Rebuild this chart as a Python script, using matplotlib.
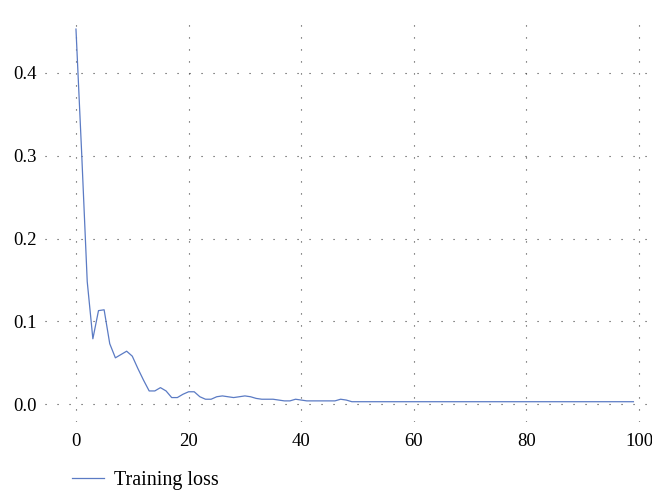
import matplotlib
matplotlib.use("Agg")
import matplotlib.pyplot as plt

epochs = list(range(100))
loss = [0.453, 0.305, 0.148, 0.079, 0.113, 0.114, 0.073, 0.056, 0.060, 0.064,
        0.058, 0.043, 0.029, 0.016, 0.016, 0.020, 0.016, 0.008, 0.008, 0.012,
        0.015, 0.015, 0.009, 0.006, 0.006, 0.009, 0.010, 0.009, 0.008, 0.009,
        0.010, 0.009, 0.007, 0.006, 0.006, 0.006, 0.005, 0.004, 0.004, 0.006,
        0.005, 0.004, 0.004, 0.004, 0.004, 0.004, 0.004, 0.006, 0.005] + [0.003] * 51
x_ticks = [0, 20, 40, 60, 80, 100]
y_ticks = [0.0, 0.1, 0.2, 0.3, 0.4]

plt.rcParams['font.family'] = ['Liberation Serif', 'DejaVu Serif']

fig = plt.figure(figsize=(6.52, 4.93), dpi=100)
ax = fig.add_axes([45 / 652, 1 - 422 / 493, 1 - 45 / 652, (422 - 15) / 493])

line, = ax.plot(epochs, loss, color='#5b7bc4', lw=0.9, label='Training loss')

ax.set_xlim(-5.5, 102.3)
ax.set_ylim(-0.0215, 0.470)
ax.set_xticks(x_ticks)
ax.set_yticks(y_ticks)
ax.set_yticklabels(['%.1f' % v for v in y_ticks])
ax.tick_params(length=0, labelsize=13.5, pad=8)
ax.tick_params(axis='y', pad=6)
for s in ax.spines.values():
    s.set_visible(False)
ax.grid(True, color='#444444', lw=0.8, linestyle=(0, (1, 9.8)))

fig.legend(handles=[line], loc='center left', bbox_to_anchor=(72 / 652, 1 - 480 / 493),
           frameon=False, fontsize=14.5, borderpad=0, borderaxespad=0,
           handlelength=1.6, handletextpad=0.5)

fig.savefig('out.png', dpi=100)
